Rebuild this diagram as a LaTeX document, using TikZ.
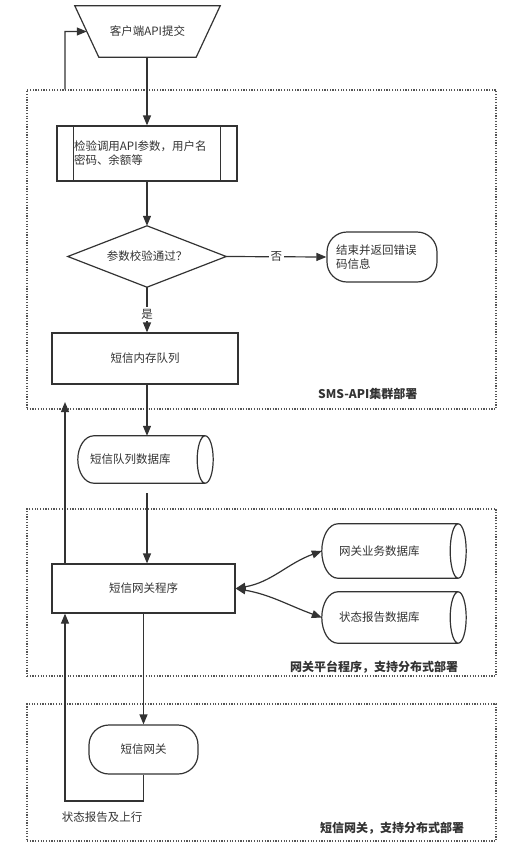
\documentclass[tikz,border=0pt]{standalone}
\usepackage{fontspec}
\setmainfont{Noto Sans CJK SC}
\usetikzlibrary{arrows.meta,calc}
\definecolor{ink}{HTML}{333333}
\definecolor{dotc}{HTML}{555555}
\tikzset{
  box/.style={draw=ink, line width=1.2pt, fill=white, inner sep=0pt, text=ink},
  plain/.style={inner sep=0pt, text=ink},
  line/.style={draw=ink, line width=1.2pt},
  arr/.style={line, -{Triangle[length=10pt,width=8pt]}},
  dbl/.style={line, {Triangle[length=10pt,width=8pt]}-{Triangle[length=10pt,width=8pt]}},
  zone/.style={draw=dotc, line width=1.2pt, dash pattern=on 1.2pt off 1.5pt, inner sep=0pt},
  zonelabel/.style={font=\fontsize{12}{14}\selectfont\bfseries, anchor=west, text=ink, inner sep=0pt},
}
\newcommand\cylout[1]{%
  \draw[line] let \p1=(#1.north west), \p2=(#1.south east), \n1={(\y1-\y2)/2} in
    ({\x2-8pt},\y1) -- ({\x1+16pt},\y1)
    .. controls ({\x1+7.16pt},\y1) and (\x1,{\y2+\n1*1pt+0.5523*\n1*1pt}) .. (\x1,{\y2+\n1*1pt})
    .. controls (\x1,{\y2+\n1*1pt-0.5523*\n1*1pt}) and ({\x1+7.16pt},\y2) .. ({\x1+16pt},\y2)
    -- ({\x2-8pt},\y2)
    ({\x2-8pt},{\y2+\n1*1pt}) ellipse [x radius=8pt, y radius={\n1*1pt}];
}
\begin{document}
\begin{tikzpicture}[x=1pt,y=-1pt,font=\fontsize{11.5}{14}\selectfont]
\useasboundingbox (0,0) rectangle (521,852);
% zones
\node[zone, minimum width=469pt, minimum height=319pt] (z1) at (261.5,249.5) {};
\node[zone, minimum width=469pt, minimum height=167pt] (z2) at (261.5,592.5) {};
\node[zone, minimum width=469pt, minimum height=137pt] (z3) at (261.5,772.5) {};
\node[zonelabel] (l1) at (318,394) {SMS-API集群部署};
\node[zonelabel] (l2) at (290,667) {网关平台程序，支持分布式部署};
\node[zonelabel] (l3) at (320,828) {短信网关，支持分布式部署};
% client trapezium
\node[plain, minimum width=145pt, minimum height=51pt] (client) at (147.5,31.5) {客户端API提交};
\draw[line] (client.north west) -- (client.north east) -- ([xshift=-24pt]client.south east) -- ([xshift=24pt]client.south west) -- cycle;
% predefined process
\node[box, minimum width=180pt, minimum height=55pt, text width=146pt, inner xsep=17pt, align=left] (check) at (147,153.5) {检验调用API参数，用户名\\密码、余额等};
\draw[line] ([xshift=17pt]check.north west) -- ([xshift=17pt]check.south west);
\draw[line] ([xshift=-17pt]check.north east) -- ([xshift=-17pt]check.south east);
% decision
\node[plain, minimum width=158pt, minimum height=61pt] (dia) at (147,256.5) {参数校验通过？};
\draw[line] (dia.north) -- (dia.east) -- (dia.south) -- (dia.west) -- cycle;
% end terminator
\node[box, rounded corners=20pt, minimum width=110pt, minimum height=50pt, text width=92pt, inner xsep=9pt, align=left] (endn) at (382,257) {结束并返回错误\\码信息};
% memory queue
\node[box, minimum width=186pt, minimum height=51pt] (memq) at (145,358.5) {短信内存队列};
% queue db
\node[plain, minimum width=135pt, minimum height=47pt, text width=111pt, inner xsep=12pt, align=left] (qdb) at (145.5,459.5) {短信队列数据库};
\cylout{qdb}
% gateway program
\node[box, minimum width=183pt, minimum height=49pt] (gw) at (143.5,588.5) {短信网关程序};
% gateway dbs
\node[plain, minimum width=144pt, minimum height=54pt, text width=110pt, inner xsep=17pt, align=left] (db1) at (394,551) {网关业务数据库};
\cylout{db1}
\node[plain, minimum width=144pt, minimum height=51pt, text width=110pt, inner xsep=17pt, align=left] (db2) at (394,617.5) {状态报告数据库};
\cylout{db2}
% gateway terminator
\node[box, rounded corners=20pt, minimum width=109pt, minimum height=49pt] (gwt) at (143.5,749.5) {短信网关};
% connectors
\draw[arr] (check.north |- client.south) -- (check.north);
\draw[arr] (check.south) -- (dia.north);
\draw[arr] (dia.east) -- node[fill=white, inner sep=1.5pt, text=ink, pos=0.5] (no) {否} (endn.west);
\draw[arr] (dia.south) -- node[fill=white, inner sep=2pt, text=ink, pos=0.6] (yes) {是} (dia.south |- memq.north);
\draw[arr] (dia.south |- memq.south) -- (dia.south |- qdb.north);
\draw[arr] ($(dia.south |- qdb.south)+(0,10)$) -- (dia.south |- gw.north);
\coordinate (up1) at (65,402);
\draw[arr] (gw.north -| up1) -- (up1);
\draw[arr] (z1.north -| up1) -- (up1 |- client) -- ($(client.north west)!0.5!([xshift=24pt]client.south west)$);
\draw[dbl] (gw.east) to[out=10,in=200] (db1.west);
\draw[dbl] (gw.east) to[out=-10,in=160] (db2.west);
\draw[arr] (gw.south) -- (gwt.north);
\coordinate (loop) at (65,801);
\draw[arr] (gwt.south) -- (gwt.south |- loop) -- (loop) -- (loop |- gw.south);
\node[plain] (lbl) at (102,817) {状态报告及上行};
\end{tikzpicture}
\end{document}
